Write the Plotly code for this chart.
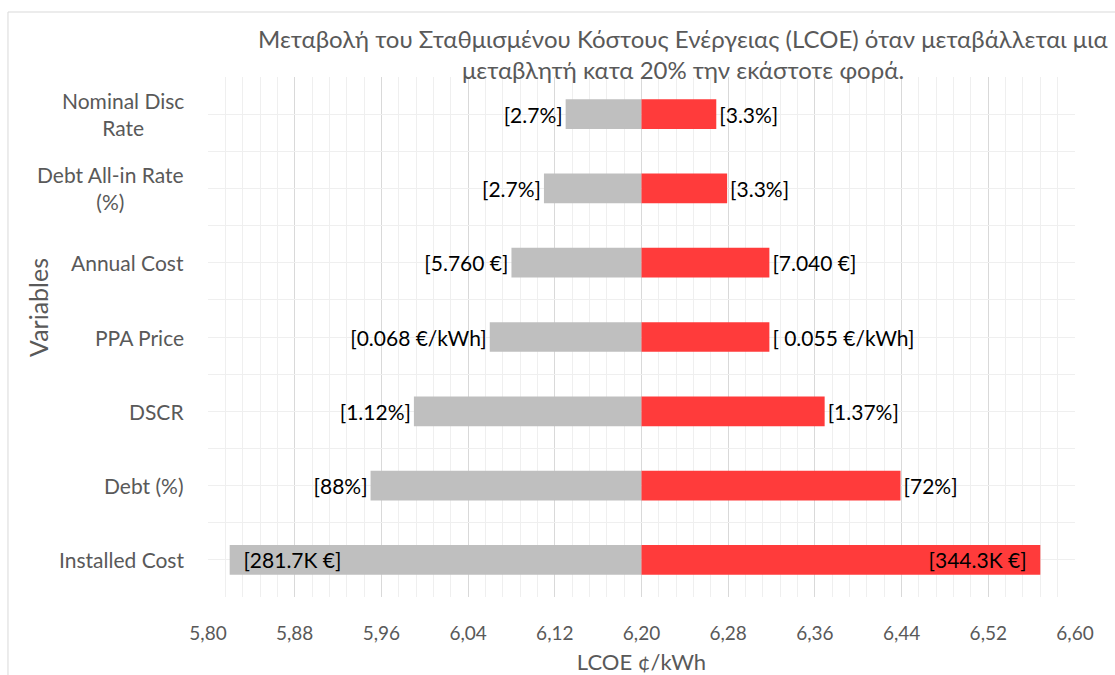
import plotly.graph_objects as go

# Sensitivity of LCOE (¢/kWh) to a ±20% change of each input
categories = ["Installed Cost", "Debt (%)", "DSCR", "PPA Price",
              "Annual Cost", "Debt All-in Rate<br>(%)", "Nominal Disc<br>Rate"]
base_lcoe = 6.20
lcoe_low = [5.820, 5.950, 5.990, 6.060, 6.080, 6.110, 6.130]
lcoe_high = [6.568, 6.439, 6.369, 6.318, 6.318, 6.279, 6.269]
low_labels = ["[281.7K €]", "[88%]", "[1.12%]", "[0.068 €/kWh]",
              "[5.760 €]", "[2.7%]", "[2.7%]"]
high_labels = ["[344.3K €]", "[72%]", "[1.37%]", "[ 0.055 €/kWh]",
               "[7.040 €]", "[3.3%]", "[3.3%]"]
x_ticks = [5.80, 5.88, 5.96, 6.04, 6.12, 6.20, 6.28, 6.36, 6.44, 6.52, 6.60]

FONT = "Lato, 'Noto Sans', sans-serif"
GREY_TXT = "#595959"
PAD = "\u00a0\u00a0"

ypos = list(range(len(categories)))
# the widest bar keeps its label inside, the rest go outside
widest = max(range(len(categories)), key=lambda i: lcoe_high[i] - lcoe_low[i])
positions = ["inside" if i == widest else "outside" for i in ypos]
# a little breathing room for labels sitting inside the bar tip
low_text = [PAD + t if p == "inside" else t for t, p in zip(low_labels, positions)]
high_text = [t + PAD if p == "inside" else t for t, p in zip(high_labels, positions)]

fig = go.Figure()
fig.add_trace(go.Bar(
    y=ypos, x=[v - base_lcoe for v in lcoe_low], base=base_lcoe,
    orientation="h", width=0.4, marker=dict(color="#BFBFBF", line=dict(width=0)),
    text=low_text, textposition=positions, insidetextanchor="end",
    textangle=0, constraintext="none", cliponaxis=False,
    textfont=dict(family=FONT, size=21, color="#000000"),
    showlegend=False, hoverinfo="skip",
))
fig.add_trace(go.Bar(
    y=ypos, x=[v - base_lcoe for v in lcoe_high], base=base_lcoe,
    orientation="h", width=0.4, marker=dict(color="#FF3B3B", line=dict(width=0)),
    text=high_text, textposition=positions, insidetextanchor="end",
    textangle=0, constraintext="none", cliponaxis=False,
    textfont=dict(family=FONT, size=21, color="#000000"),
    showlegend=False, hoverinfo="skip",
))

annotations = []
# category labels, centred line by line
for i, name in enumerate(categories):
    annotations.append(dict(
        x=-0.025, xref="paper", y=i, yref="y", text=name, showarrow=False,
        xanchor="right", yanchor="middle", align="center",
        font=dict(family=FONT, size=21, color=GREY_TXT),
    ))
# y-axis title
annotations.append(dict(
    x=-0.196, xref="paper", y=0.556, yref="paper", text="Variables",
    showarrow=False, textangle=-90, xanchor="center", yanchor="middle",
    font=dict(family=FONT, size=25, color=GREY_TXT),
))
# chart title (two lines)
annotations.append(dict(
    x=0.548, xref="paper", y=1.075, yref="paper",
    text="Μεταβολή του Σταθμισμένου Κόστους Ενέργειας (LCOE) όταν μεταβάλλεται μια",
    showarrow=False, xanchor="center", yanchor="middle",
    font=dict(family=FONT, size=24, color=GREY_TXT),
))
annotations.append(dict(
    x=0.548, xref="paper", y=1.0135, yref="paper",
    text="μεταβλητή κατα 20% την εκάστοτε φορά.",
    showarrow=False, xanchor="center", yanchor="middle",
    font=dict(family=FONT, size=24, color=GREY_TXT),
))

fig.update_layout(
    width=1115, height=675,
    margin=dict(l=208, r=40, t=77, b=78, autoexpand=False),
    paper_bgcolor="white", plot_bgcolor="white",
    barmode="overlay",
    separators=", ",
    annotations=annotations,
    shapes=[dict(type="rect", xref="paper", yref="paper",
                 x0=-0.2307, x1=1.1, y0=-0.25, y1=1.125,
                 line=dict(color="#D9D9D9", width=1), layer="below")],
    xaxis=dict(
        range=[5.80, 6.60], tickvals=x_ticks, tickformat=".2f",
        automargin=False,
        showgrid=True, gridcolor="#D9D9D9", gridwidth=1,
        minor=dict(dtick=0.016, tick0=5.80, showgrid=True,
                   gridcolor="#EFEFEF", gridwidth=1),
        zeroline=False, showline=False, ticks="",
        ticklabelstandoff=23,
        tickfont=dict(family=FONT, size=19, color=GREY_TXT),
        title=dict(text="LCOE ¢/kWh", standoff=12,
                   font=dict(family=FONT, size=22, color=GREY_TXT)),
    ),
    yaxis=dict(
        range=[-0.5, 6.5], automargin=False,
        tickvals=[k / 2 for k in range(-1, 14)],
        showticklabels=False, ticks="",
        showgrid=True, gridcolor="#EFEFEF", gridwidth=1,
        zeroline=False, showline=False,
    ),
)

fig.write_html("out.html")
